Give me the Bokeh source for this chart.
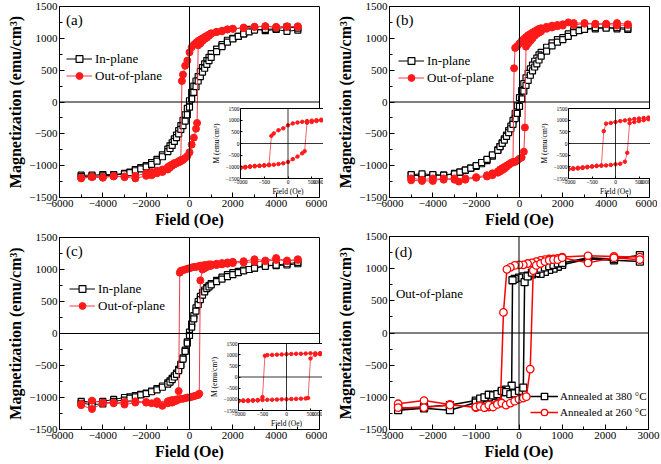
from bokeh.plotting import figure
from bokeh.models import Span, Legend, LegendItem, Label, FixedTicker
from bokeh.layouts import column
from bokeh.embed import file_html
from bokeh.resources import INLINE

FONT = "Liberation Serif, DejaVu Serif, serif"

# ---------------- tick values ----------------
MAIN_X_TICKS = [-6000, -4000, -2000, 0, 2000, 4000, 6000]
MAIN_X_MINOR = [-5000, -3000, -1000, 1000, 3000, 5000]
D_X_TICKS = [-3000, -2000, -1000, 0, 1000, 2000, 3000]
D_X_MINOR = [-2500, -1500, -500, 500, 1500, 2500]
Y_TICKS = [-1500, -1000, -500, 0, 500, 1000, 1500]
Y_MINOR = [-1250, -750, -250, 250, 750, 1250]
INSET_X_TICKS = [-1000, -500, 0, 500, 1000]

# ---------------- in-plane loops (a), (b), (c) ----------------
IN_H_DOWN = [5000, 4500, 4000, 3500, 3000, 2750, 2500, 2250, 2000, 1750, 1500, 1250, 1000, 900, 800,
             700, 600, 500, 400, 300, 200, 100, 0, -100, -200, -300, -400, -500, -600, -700, -800,
             -900, -1000, -1250, -1500, -1750, -2000, -2250, -2500, -2750, -3000, -3500, -4000, -4500, -5000]
IN_H_UP = [-5000, -4500, -4000, -3500, -3000, -2750, -2500, -2250, -2000, -1750, -1500, -1250, -1000, -900, -800,
           -700, -600, -500, -400, -300, -200, -100, 0, 100, 200, 300, 400, 500, 600, 700, 800,
           900, 1000, 1250, 1500, 1750, 2000, 2250, 2500, 2750, 3000, 3500, 4000, 4500, 5000]

A_IN_M_DOWN = [1130, 1110, 1140, 1120, 1150, 1140, 1070, 1030, 1000, 970, 900, 830, 760, 700, 650,
               600, 540, 480, 400, 330, 250, 150, 20, -100, -200, -290, -370, -450, -520, -580, -640,
               -690, -740, -830, -900, -950, -1000, -1030, -1060, -1100, -1120, -1140, -1140, -1150, -1150]
A_IN_M_UP = [-1170, -1170, -1160, -1150, -1130, -1110, -1080, -1050, -1020, -980, -930, -860, -780, -730, -680,
             -620, -560, -500, -430, -370, -300, -200, -80, 50, 150, 240, 330, 400, 470, 530, 590,
             650, 700, 790, 870, 940, 990, 1030, 1070, 1100, 1130, 1140, 1150, 1180, 1160]

B_IN_M_DOWN = [1140, 1150, 1170, 1150, 1140, 1130, 1120, 1070, 1010, 980, 930, 860, 780, 740, 690,
               640, 580, 520, 450, 380, 290, 180, 70, -60, -180, -290, -380, -450, -520, -580, -640,
               -700, -750, -850, -920, -970, -1010, -1040, -1070, -1100, -1120, -1150, -1150, -1160, -1150]
B_IN_M_UP = [-1140, -1130, -1140, -1150, -1130, -1100, -1070, -1040, -1000, -950, -900, -830, -760, -700, -650,
             -600, -540, -480, -420, -350, -260, -180, -70, 50, 170, 260, 340, 420, 490, 550, 600,
             660, 720, 800, 880, 940, 980, 1030, 1090, 1120, 1140, 1170, 1160, 1170, 1160]

C_IN_M_DOWN = [1090, 1070, 1060, 1070, 1020, 1000, 990, 970, 950, 920, 880, 830, 780, 750, 720,
               680, 640, 580, 500, 400, 280, 150, 20, -130, -260, -380, -480, -560, -620, -660, -700,
               -740, -770, -820, -860, -900, -930, -950, -970, -990, -1000, -1030, -1060, -1070, -1060]
C_IN_M_UP = [-1090, -1110, -1100, -1060, -1040, -1010, -990, -960, -940, -910, -880, -840, -790, -760, -720,
             -680, -640, -580, -500, -400, -280, -150, -30, 100, 230, 350, 450, 530, 600, 650, 700,
             730, 760, 810, 850, 890, 920, 950, 980, 1000, 1020, 1050, 1070, 1090, 1110]

# ---------------- out-of-plane loops (a), (b), (c) ----------------
A_OUT_H_DOWN = [5000, 4500, 4000, 3500, 3000, 2500, 2000, 1750, 1500, 1250, 1000, 900, 800, 700, 600,
                500, 400, 300, 200, 100, 0, -100, -200, -300, -350, -400, -500, -600, -700, -800,
                -900, -1000, -1250, -1500, -1750, -2000, -2500, -3000, -3500, -4000, -4500, -5000]
A_OUT_M_DOWN = [1190, 1180, 1170, 1190, 1180, 1170, 1150, 1140, 1110, 1100, 1080, 1060, 1040, 1020, 1000,
                980, 960, 930, 900, 860, 780, 650, 570, 430, 330, -910, -930, -950, -960, -980,
                -1000, -1020, -1060, -1080, -1100, -1120, -1160, -1170, -1170, -1180, -1170, -1190]
A_OUT_H_UP = [-5000, -4500, -4000, -3500, -3000, -2500, -2000, -1750, -1500, -1250, -1000, -900, -800, -700, -600,
              -500, -400, -300, -200, -100, 0, 100, 200, 300, 350, 400, 500, 600, 700, 800,
              900, 1000, 1250, 1500, 1750, 2000, 2500, 3000, 3500, 4000, 4500, 5000]
A_OUT_M_UP = [-1200, -1180, -1190, -1160, -1180, -1200, -1160, -1150, -1120, -1100, -1060, -1030, -1000, -980, -960,
              -950, -930, -910, -880, -850, -790, -670, -560, -420, -330, 890, 920, 960, 990, 1010,
              1040, 1070, 1100, 1120, 1140, 1150, 1160, 1180, 1190, 1180, 1190, 1180]

B_OUT_H_DOWN = [5000, 4500, 4000, 3500, 3000, 2500, 2250, 2000, 1750, 1500, 1250, 1000, 900, 800, 700,
                600, 500, 400, 300, 200, 100, 0, -100, -200, -250, -300, -400, -500, -600, -700,
                -800, -900, -1000, -1250, -1500, -2000, -2500, -3000, -3500, -4000, -4500, -5000]
B_OUT_M_DOWN = [1220, 1240, 1230, 1230, 1240, 1240, 1250, 1220, 1210, 1200, 1180, 1160, 1150, 1130, 1110,
                1090, 1070, 1050, 1020, 990, 960, 920, 880, 850, 530, -940, -960, -990, -1020, -1050,
                -1070, -1090, -1110, -1150, -1170, -1190, -1220, -1220, -1200, -1240, -1240, -1230]
B_OUT_H_UP = [-5000, -4500, -4000, -3500, -3000, -2800, -2500, -2000, -1500, -1250, -1000, -900, -800, -700, -600,
              -500, -400, -300, -200, -100, 0, 100, 200, 250, 300, 400, 500, 600, 700, 800,
              900, 1000, 1250, 1500, 1750, 2000, 2500, 3000, 3500, 4000, 4500, 5000]
B_OUT_M_UP = [-1200, -1220, -1200, -1220, -1200, -1250, -1200, -1180, -1150, -1120, -1090, -1060, -1040, -1020, -1000,
              -980, -960, -950, -940, -920, -890, -870, -780, -400, 870, 920, 960, 1000, 1040, 1070,
              1090, 1110, 1150, 1170, 1190, 1200, 1210, 1230, 1220, 1220, 1200, 1210]

C_OUT_H_DOWN = [5000, 4500, 4000, 3500, 3000, 2500, 2000, 1750, 1500, 1250, 1000, 900, 800, 700, 600,
                500, 400, 300, 200, 100, 0, -100, -200, -300, -400, -450, -500, -600, -700, -800,
                -900, -1000, -1250, -1500, -1750, -2000, -2500, -3000, -3500, -4000, -4500, -5000]
C_OUT_M_DOWN = [1160, 1130, 1180, 1140, 1160, 1130, 1120, 1110, 1100, 1090, 1080, 1080, 1070, 1070, 1060,
                1060, 1050, 1040, 1040, 1030, 1020, 1010, 1000, 990, 980, 950, -900, -1050, -1060, -1080,
                -1070, -1090, -1130, -1100, -1090, -1080, -1080, -1110, -1080, -1090, -1180, -1120]
C_OUT_H_UP = [-5000, -4500, -4000, -3500, -3000, -2500, -2000, -1500, -1000, -900, -800, -700, -600, -500, -400,
              -300, -200, -100, 0, 100, 200, 300, 400, 450, 500, 600, 700, 800, 900, 1000,
              1250, 1500, 1750, 2000, 2500, 3000, 3500, 4000, 4500, 5000]
C_OUT_M_UP = [-1100, -1050, -1080, -1090, -1070, -1060, -1070, -1060, -1060, -1050, -1040, -1040, -1030, -1030, -1020,
              -1020, -1010, -1000, -1000, -990, -980, -970, -960, -940, 830, 1000, 1020, 1040, 1050, 1060,
              1070, 1080, 1090, 1100, 1110, 1120, 1130, 1150, 1140, 1150]

# ---------------- panel (d): out-of-plane, two annealing temperatures ----------------
D380_H_DOWN = [2800, 2200, 1600, 1000, 900, 800, 700, 600, 500, 400, 300, 200, 100, 0,
               -100, -150, -170, -300, -400, -500, -600, -700, -800, -900, -1000, -1600, -2200, -2800]
D380_M_DOWN = [1110, 1130, 1150, 1060, 1030, 1000, 980, 950, 920, 930, 910, 890, 880, 860,
               840, 820, -820, -880, -920, -950, -980, -1000, -1010, -1030, -1050, -1120, -1150, -1170]
D380_H_UP = [-2800, -2200, -1600, -1000, -900, -800, -700, -600, -500, -400, -300, -200, -100, 0,
             100, 130, 200, 300, 400, 500, 600, 700, 800, 900, 1000, 1600, 2200, 2800]
D380_M_UP = [-1200, -1170, -1200, -1080, -1020, -1000, -960, -970, -950, -900, -920, -950, -940, -900,
             -850, 790, 880, 940, 980, 1000, 1020, 1040, 1060, 1080, 1090, 1170, 1150, 1210]

D260_H_DOWN = [2800, 2200, 1600, 1000, 900, 800, 700, 600, 500, 400, 300, 200, 100, 0,
               -100, -200, -280, -360, -430, -500, -600, -700, -800, -900, -1000, -1600, -2200, -2800]
D260_M_DOWN = [1180, 1190, 1200, 1180, 1160, 1150, 1150, 1140, 1130, 1110, 1090, 1080, 1060, 1060,
               1050, 1020, 990, 320, -1080, -1100, -1130, -1150, -1160, -1130, -1160, -1110, -1050, -1100]
D260_H_UP = [-2800, -2200, -1600, -1000, -900, -800, -700, -600, -500, -400, -300, -200, -100, 0,
             100, 170, 260, 330, 400, 500, 600, 700, 800, 900, 1000, 1600, 2200, 2800]
D260_M_UP = [-1160, -1160, -1120, -1150, -1140, -1160, -1120, -1150, -1110, -1090, -1120, -1090, -1060, -1030,
             -1010, -990, -560, 970, 1050, 1080, 1110, 1130, 1140, 1140, 1170, 1090, 1170, 1140]

RED = "#ff1a1a"
RED_LINE = "#ee3a4a"


def pos(left, top):
    return {"position": "absolute", "left": f"{left}px", "top": f"{top}px"}


def style_axis(ax, tick_size, label_size, bold, tin, min_in, lstand, tstand):
    ax.major_tick_in = tin
    ax.major_tick_out = 0
    ax.minor_tick_in = min_in
    ax.minor_tick_out = 0
    ax.axis_line_color = "black"
    ax.major_tick_line_color = "black"
    ax.minor_tick_line_color = "black"
    ax.major_label_text_font = FONT
    ax.major_label_text_font_size = tick_size
    ax.major_label_text_color = "black"
    ax.axis_label_text_font = FONT
    ax.axis_label_text_font_size = label_size
    ax.axis_label_text_font_style = "bold" if bold else "normal"
    ax.axis_label_text_color = "black"
    ax.axis_label_standoff = lstand
    ax.major_label_standoff = tstand


def make_main(fw, fh, left_border, xr, xt, xm, styles):
    p = figure(frame_width=fw, frame_height=fh, x_range=xr, y_range=(-1500, 1500),
               output_backend="svg", toolbar_location=None,
               min_border_left=left_border, min_border_right=12,
               min_border_top=6, min_border_bottom=48, styles=styles)
    p.xgrid.visible = False
    p.ygrid.visible = False
    p.outline_line_color = "black"
    p.outline_line_alpha = 1
    p.outline_line_width = 1
    p.background_fill_color = "white"
    p.border_fill_color = None
    p.xaxis.axis_label = "Field (Oe)"
    p.yaxis.axis_label = "Magnetization (emu/cm³)"
    p.xaxis.ticker = FixedTicker(ticks=xt, minor_ticks=xm)
    p.yaxis.ticker = FixedTicker(ticks=Y_TICKS, minor_ticks=Y_MINOR)
    style_axis(p.xaxis[0], "11px", "16px", True, 5, 3, 1, 2)
    style_axis(p.yaxis[0], "11px", "16px", True, 5, 3, 2, 2)
    p.add_layout(Span(location=0, dimension="height", line_color="black", line_width=1))
    p.add_layout(Span(location=0, dimension="width", line_color="black", line_width=1))
    return p


def make_inset(fw, fh, H, M, styles):
    p = figure(frame_width=fw, frame_height=fh, x_range=(-1000, 1000), y_range=(-1500, 1500),
               output_backend="svg", toolbar_location=None,
               min_border_left=30, min_border_right=16,
               min_border_top=4, min_border_bottom=24, styles=styles)
    p.xgrid.visible = False
    p.ygrid.visible = False
    p.outline_line_color = "black"
    p.outline_line_alpha = 1
    p.background_fill_color = "white"
    p.border_fill_color = None
    p.xaxis.axis_label = "Field (Oe)"
    p.yaxis.axis_label = "M (emu/cm³)"
    p.xaxis.ticker = FixedTicker(ticks=INSET_X_TICKS)
    p.yaxis.ticker = FixedTicker(ticks=Y_TICKS)
    style_axis(p.xaxis[0], "5.5px", "7.5px", False, 2, 0, 0, 1)
    style_axis(p.yaxis[0], "5.5px", "7.5px", False, 2, 0, 1, 1)
    p.add_layout(Span(location=0, dimension="height", line_color="black", line_width=0.8))
    p.add_layout(Span(location=0, dimension="width", line_color="black", line_width=0.8))
    p.line(H, M, line_color=RED_LINE, line_width=0.8)
    p.scatter(H, M, marker="circle", size=3.5, fill_color=RED, line_color=RED)
    return p


def add_loops(p, h_in, m_in, h_out, m_out, letter, legend_xy):
    l1 = p.line(h_in, m_in, line_color="black", line_width=1)
    s1 = p.scatter(h_in, m_in, marker="square", size=6, fill_color="white",
                   line_color="black", line_width=1.2)
    l2 = p.line(h_out, m_out, line_color=RED_LINE, line_width=1)
    s2 = p.scatter(h_out, m_out, marker="circle", size=7, fill_color=RED, line_color=RED)
    leg = Legend(items=[LegendItem(label="In-plane", renderers=[l1, s1]),
                        LegendItem(label="Out-of-plane", renderers=[l2, s2])],
                 location=legend_xy, padding=0, spacing=0, margin=0,
                 glyph_width=26, glyph_height=17, label_height=17, label_standoff=3,
                 label_width=90, background_fill_alpha=0, border_line_alpha=0,
                 label_text_font=FONT, label_text_font_size="13px", label_text_color="black")
    p.add_layout(leg)
    p.add_layout(Label(x=-5700, y=1420, text=letter, text_baseline="top", text_align="left",
                       text_font=FONT, text_font_size="15px", text_color="black"))


# ---------------- panels (frames placed at the reference positions) ----------------
pA = make_main(260, 191, 52, (-6000, 6000), MAIN_X_TICKS, MAIN_X_MINOR, pos(0, 0))
add_loops(pA, IN_H_DOWN + IN_H_UP, A_IN_M_DOWN + A_IN_M_UP,
          A_OUT_H_DOWN + A_OUT_H_UP, A_OUT_M_DOWN + A_OUT_M_UP, "(a)", (7, 113))

pB = make_main(260, 191, 52, (-6000, 6000), MAIN_X_TICKS, MAIN_X_MINOR, pos(330, 0))
add_loops(pB, IN_H_DOWN + IN_H_UP, B_IN_M_DOWN + B_IN_M_UP,
          B_OUT_H_DOWN + B_OUT_H_UP, B_OUT_M_DOWN + B_OUT_M_UP, "(b)", (9, 111))

pC = make_main(260, 192, 52, (-6000, 6000), MAIN_X_TICKS, MAIN_X_MINOR, pos(0, 231))
add_loops(pC, IN_H_DOWN + IN_H_UP, C_IN_M_DOWN + C_IN_M_UP,
          C_OUT_H_DOWN + C_OUT_H_UP, C_OUT_M_DOWN + C_OUT_M_UP, "(c)", (10, 115))

pD = make_main(259, 193, 59, (-3000, 3000), D_X_TICKS, D_X_MINOR, pos(330, 230))
d1l = pD.line(D380_H_DOWN + D380_H_UP, D380_M_DOWN + D380_M_UP, line_color="black", line_width=1.5)
d1s = pD.scatter(D380_H_DOWN + D380_H_UP, D380_M_DOWN + D380_M_UP, marker="square", size=7,
                 fill_color="white", line_color="black", line_width=1.3)
d2l = pD.line(D260_H_DOWN + D260_H_UP, D260_M_DOWN + D260_M_UP, line_color="#ff0000", line_width=1.5)
d2s = pD.scatter(D260_H_DOWN + D260_H_UP, D260_M_DOWN + D260_M_UP, marker="circle", size=7.5,
                 fill_color="white", line_color="#ff0000", line_width=1.3)
pD.add_layout(Legend(items=[LegendItem(label="Annealed at 380 °C", renderers=[d1l, d1s]),
                            LegendItem(label="Annealed at 260 °C", renderers=[d2l, d2s])],
                     location=(141, 9), padding=0, spacing=0, margin=0,
                     glyph_width=28, glyph_height=16, label_height=16, label_standoff=2,
                     label_width=100, background_fill_alpha=0, border_line_alpha=0,
                     label_text_font=FONT, label_text_font_size="11px", label_text_color="black"))
pD.add_layout(Label(x=-2880, y=1380, text="(d)", text_baseline="top", text_align="left",
                    text_font=FONT, text_font_size="15px", text_color="black"))
pD.add_layout(Label(x=-2850, y=620, text="Out-of-plane", text_baseline="middle", text_align="left",
                    text_font=FONT, text_font_size="13px", text_color="black"))

# ---------------- insets (zoom of the out-of-plane loops) ----------------
iA = make_inset(95, 70, A_OUT_H_DOWN + A_OUT_H_UP, A_OUT_M_DOWN + A_OUT_M_UP, pos(181, 104))
iB = make_inset(94, 70, B_OUT_H_DOWN + B_OUT_H_UP, B_OUT_M_DOWN + B_OUT_M_UP, pos(509, 104))
iC = make_inset(96, 67, C_OUT_H_DOWN + C_OUT_H_UP, C_OUT_M_DOWN + C_OUT_M_UP, pos(179, 339))

root = column(pA, pB, pC, pD, iA, iB, iC, spacing=0, width=660, height=463,
              styles={"position": "relative", "width": "660px", "height": "463px",
                      "overflow": "hidden"})

open("out.html", "w").write(file_html(root, INLINE))
